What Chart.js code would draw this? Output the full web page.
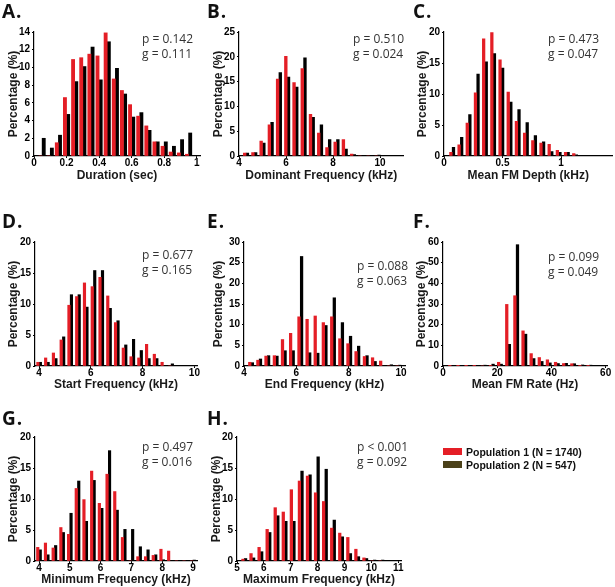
<!DOCTYPE html>
<html><head><meta charset="utf-8">
<script src="https://cdn.jsdelivr.net/npm/chart.js@4.4.1/dist/chart.umd.min.js"></script>
<style>
html,body{margin:0;padding:0;background:#fff;}
#wrap{position:relative;width:615px;height:587px;overflow:hidden;background:#fff;}
#wrap canvas{position:absolute;}
.lbl{position:absolute;font-family:'Open Sans',sans-serif;font-weight:700;font-size:19px;letter-spacing:1px;line-height:1;color:#111;}
.stat{position:absolute;font-family:'Open Sans',sans-serif;font-size:12px;line-height:15px;color:#333;white-space:pre;}
.leg{position:absolute;font-family:'Liberation Sans',Arial,sans-serif;font-weight:700;font-size:10.5px;line-height:12px;color:#111;white-space:pre;}
.sw{position:absolute;width:19px;height:7px;}
</style></head><body><div id="wrap"></div>
<script>
// ---------------- data ----------------
const durationBins = [0.05,0.10,0.15,0.20,0.25,0.30,0.35,0.40,0.45,0.50,0.55,0.60,0.65,0.70,0.75,0.80,0.85,0.90,0.95];
const durationPop1 = [0,0,1.5,6.6,10.9,11.1,11.5,11.3,13.9,8.7,7.4,5.8,4.5,3.4,1.6,1.1,0.45,0.35,0.2];
const durationPop2 = [2.0,0.9,2.35,4.7,8.4,10.1,12.3,8.6,12.9,9.9,7.0,4.4,4.9,2.9,1.6,1.6,1.1,1.85,2.6];

const domFreqBins = [4.30,4.65,5.00,5.35,5.70,6.05,6.40,6.75,7.10,7.45,7.80,8.15,8.50,8.85,9.20,9.55,9.90];
const domFreqPop1 = [0.6,0.7,3.0,6.3,15.5,20.1,14.8,17.6,8.4,4.6,1.7,2.8,3.3,0.4,0,0,0];
const domFreqPop2 = [0.6,0.7,2.6,6.8,16.8,15.9,13.9,19.8,7.8,6.3,3.3,3.3,1.4,0.3,0,0,0.2];

const fmDepthBins = [0.07,0.14,0.21,0.28,0.35,0.42,0.49,0.56,0.63,0.70,0.77,0.84,0.91,0.98,1.05,1.12];
const fmDepthPop1 = [0.6,1.8,5.3,10.2,18.9,19.9,15.5,10.3,5.6,3.7,2.5,2.1,1.9,0.9,0.6,0.4];
const fmDepthPop2 = [1.4,3.0,6.7,13.2,15.2,16.5,14.2,8.7,7.5,5.4,3.3,2.3,0.7,0.6,0.6,0.2];

const startFreqBins = [4.0,4.3,4.6,4.9,5.2,5.5,5.8,6.1,6.4,6.7,7.0,7.3,7.6,7.9,8.2,8.5,8.8,9.1];
const startFreqPop1 = [0.6,1.3,2.1,4.2,9.8,11.2,13.4,12.8,14.3,11.3,7.0,2.9,1.5,1.3,3.5,1.9,0.6,0];
const startFreqPop2 = [0.6,0.6,1.2,4.7,11.5,11.5,9.5,15.4,15.4,9.3,7.3,3.4,4.3,2.5,1.2,1.2,0,0.35];

const endFreqBins = [3.96,4.27,4.58,4.89,5.21,5.52,5.83,6.15,6.46,6.77,7.08,7.40,7.71,8.02,8.33,8.65,8.96,9.27,9.58,9.90];
const endFreqPop1 = [0.3,0.9,1.4,2.4,2.5,6.4,7.9,11.9,11.3,12.1,10.5,11.9,6.6,5.4,3.5,2.3,2.0,1.2,0,0];
const endFreqPop2 = [0,0.8,1.7,2.5,2.4,3.7,3.7,26.5,3.2,3.1,9.8,16.5,10.5,7.2,4.8,2.5,1.1,0,0.3,0.2];

const fmRateBins = [3,6,9,12,15,18,21,24,27,30,33,36,39,42,45,48,51,54];
const fmRatePop1 = [0.15,0.15,0.15,0.1,0,0.3,1.8,29.8,34.0,17.0,6.0,4.1,3.0,1.8,1.2,1.1,0.3,0.2];
const fmRatePop2 = [0.15,0.15,0.1,0.1,0.4,0.9,0.9,10.5,58.7,15.4,3.6,2.2,1.5,1.2,1.3,1.1,0.5,0.4];

const minFreqBins = [4.00,4.25,4.50,4.75,5.00,5.25,5.50,5.75,6.00,6.25,6.50,6.75,7.00,7.25,7.50,7.75,8.00,8.25,8.50,8.75,9.00];
const minFreqPop1 = [2.2,2.9,2.1,5.4,4.3,11.7,9.9,14.5,9.3,14.0,11.2,3.8,0,0.7,0.7,0.9,1.9,1.6,0,0,0];
const minFreqPop2 = [1.8,1.0,2.5,4.6,7.7,12.9,6.4,13.0,8.5,17.8,8.2,5.1,5.1,2.3,1.8,1.0,0.2,0,0,0,0.15];

const maxFreqBins = [5.27,5.57,5.87,6.17,6.47,6.77,7.07,7.37,7.67,7.97,8.27,8.57,8.87,9.17,9.47,9.77,10.07,10.37];
const maxFreqPop1 = [0.3,1.2,2.2,5.1,8.6,7.9,11.5,12.9,13.7,11.0,9.6,5.3,4.5,3.8,1.9,0.5,0,0];
const maxFreqPop2 = [0.4,0.5,1.5,4.6,7.3,6.4,6.4,14.5,13.9,16.8,14.8,6.6,3.9,1.2,0.7,0.4,0.15,0.15];

// tick labels
const durationTicks = [0,0.2,0.4,0.6,0.8,1];
const domFreqTicks = [4,6,8,10];
const fmDepthTicks = [0,0.5,1];
const startFreqTicks = [4,6,8,10];
const endFreqTicks = [4,6,8,10];
const fmRateTicks = [0,20,40,60];
const minFreqTicks = [4,5,6,7,8,9];
const maxFreqTicks = [5,6,7,8,9,10,11];
const pctTicks14 = [0,2,4,6,8,10,12,14];
const pctTicks20 = [0,5,10,15,20];
const pctTicks25 = [0,5,10,15,20,25];
const pctTicks30 = [0,5,10,15,20,25,30];
const pctTicks60 = [0,10,20,30,40,50,60];

const seriesNames = ['Population 1 (N = 1740)', 'Population 2 (N = 547)'];
const panelLetters = ['A.','B.','C.','D.','E.','F.','G.','H.'];
const xTitles = ['Duration (sec)','Dominant Frequency (kHz)','Mean FM Depth (kHz)','Start Frequency (kHz)','End Frequency (kHz)','Mean FM Rate (Hz)','Minimum Frequency (kHz)','Maximum Frequency (kHz)'];
const pTexts = ['p = 0.142','p = 0.510','p = 0.473','p = 0.677','p = 0.088','p = 0.099','p = 0.497','p < 0.001'];
const gTexts = ['g = 0.111','g = 0.024','g = 0.047','g = 0.165','g = 0.063','g = 0.049','g = 0.016','g = 0.092'];
const yTitle = 'Percentage (%)';

// ---------------- layout / style ----------------
const RED = '#e41e26', BLACK = '#000000', LEG2 = '#4b4119';
const panels = [
 {bins:durationBins, p1:durationPop1, p2:durationPop2, xt:durationTicks, yt:pctTicks14},
 {bins:domFreqBins, p1:domFreqPop1, p2:domFreqPop2, xt:domFreqTicks, yt:pctTicks25},
 {bins:fmDepthBins, p1:fmDepthPop1, p2:fmDepthPop2, xt:fmDepthTicks, yt:pctTicks20},
 {bins:startFreqBins, p1:startFreqPop1, p2:startFreqPop2, xt:startFreqTicks, yt:pctTicks20},
 {bins:endFreqBins, p1:endFreqPop1, p2:endFreqPop2, xt:endFreqTicks, yt:pctTicks30},
 {bins:fmRateBins, p1:fmRatePop1, p2:fmRatePop2, xt:fmRateTicks, yt:pctTicks60},
 {bins:minFreqBins, p1:minFreqPop1, p2:minFreqPop2, xt:minFreqTicks, yt:pctTicks20},
 {bins:maxFreqBins, p1:maxFreqPop1, p2:maxFreqPop2, xt:maxFreqTicks, yt:pctTicks20}
];
const boxes = [
 {cx:0,   cy:22,  cw:205, ch:162, wy:34, hx:28, pr:5,   xmin:0,    xmax:1.02, bar:3.2, yto:14,   xpb:1, lx:2,   ly:2,   sx:142, sy:31},
 {cx:205, cy:22,  cw:205, ch:162, wy:34, hx:28, pr:6.5, xmin:4,    xmax:11,   bar:2.7, yto:14,   xpb:1, lx:207, ly:2,   sx:353, sy:31},
 {cx:410, cy:22,  cw:205, ch:162, wy:34, hx:28, pr:2.5, xmin:0,    xmax:1.44, bar:2.6, yto:13,   xpb:1, lx:413, ly:2,   sx:548, sy:31},
 {cx:0,   cy:232, cw:205, ch:162, wy:35, hx:28, pr:8,   xmin:3.84, xmax:10.1, bar:2.5, yto:14,   xpb:2, lx:2,   ly:212, sx:142, sy:247},
 {cx:205, cy:232, cw:205, ch:162, wy:39, hx:28, pr:5,   xmin:4,    xmax:10.15,bar:2.6, yto:14,   xpb:2, lx:207, ly:212, sx:357, sy:258},
 {cx:410, cy:232, cw:205, ch:162, wy:33, hx:28, pr:8,   xmin:0,    xmax:60.5, bar:2.6, yto:11.5, xpb:2, lx:413, ly:212, sx:548, sy:249},
 {cx:0,   cy:427, cw:205, ch:160, wy:35, hx:26, pr:8,   xmin:3.87, xmax:9.13, bar:2.5, yto:14,   xpb:0, lx:2,   ly:409, sx:142, sy:439},
 {cx:205, cy:427, cw:205, ch:160, wy:32, hx:26, pr:9,   xmin:5,    xmax:11.1, bar:2.6, yto:12,   xpb:0, lx:207, ly:409, sx:357, sy:439}
];

const TICKFONT = {family:"'Liberation Sans', Arial, sans-serif", size:10, weight:'bold', lineHeight:1};
const TITLEFONT = {family:"'Liberation Sans', Arial, sans-serif", size:12, weight:'bold'};
const wrap = document.getElementById('wrap');

function addDiv(cls, text, x, y, extra) {
  const d = document.createElement('div');
  d.className = cls; d.textContent = text;
  d.style.left = x + 'px'; d.style.top = y + 'px';
  if (extra) Object.assign(d.style, extra);
  wrap.appendChild(d); return d;
}

panels.forEach((p, i) => {
  const b = boxes[i];
  const cv = document.createElement('canvas');
  cv.width = b.cw; cv.height = b.ch;
  cv.style.left = b.cx + 'px'; cv.style.top = b.cy + 'px';
  cv.style.width = b.cw + 'px'; cv.style.height = b.ch + 'px';
  wrap.appendChild(cv);
  new Chart(cv, {
    type: 'bar',
    data: {
      datasets: [
        {label: seriesNames[0], data: p.bins.map((x, k) => ({x: x, y: p.p1[k]})), backgroundColor: RED, barThickness: b.bar, borderWidth: 0},
        {label: seriesNames[1], data: p.bins.map((x, k) => ({x: x, y: p.p2[k]})), backgroundColor: BLACK, barThickness: b.bar, borderWidth: 0}
      ]
    },
    options: {
      responsive: false, animation: false, devicePixelRatio: 1,
      layout: {padding: {top: 10, right: b.pr, left: 0, bottom: 0}, autoPadding: false},
      plugins: {legend: {display: false}, tooltip: {enabled: false}},
      scales: {
        x: {
          type: 'linear', min: b.xmin, max: b.xmax, offset: false,
          grid: {offset: false, drawOnChartArea: false, drawTicks: true, tickLength: 2, color: '#000', lineWidth: 1},
          border: {color: '#000', width: 1.2},
          ticks: {font: TICKFONT, color: '#000', padding: 0, maxRotation: 0, autoSkip: false, callback: v => String(v)},
          afterBuildTicks: s => { s.ticks = p.xt.map(v => ({value: v})); },
          afterFit: s => { s.height = b.hx; },
          title: {display: true, text: xTitles[i], font: TITLEFONT, color: '#1a1a1a', padding: {top: 0, bottom: b.xpb}}
        },
        y: {
          type: 'linear', min: p.yt[0], max: p.yt[p.yt.length - 1],
          grid: {drawOnChartArea: false, drawTicks: true, tickLength: 2, color: '#000', lineWidth: 1},
          border: {color: '#000', width: 1.2},
          ticks: {font: TICKFONT, color: '#000', padding: 2, autoSkip: false, callback: v => String(v)},
          afterBuildTicks: s => { s.ticks = p.yt.map(v => ({value: v})); },
          afterFit: s => { s.width = b.wy; },
          title: {display: true, text: yTitle, font: TITLEFONT, color: '#1a1a1a', padding: {top: b.yto - 7.2, bottom: 0}}
        }
      }
    }
  });
  addDiv('lbl', panelLetters[i], b.lx, b.ly);
  addDiv('stat', pTexts[i] + '\n' + gTexts[i], b.sx, b.sy);
});

// legend
addDiv('sw', '', 443, 448, {background: RED});
addDiv('leg', seriesNames[0], 466, 446);
addDiv('sw', '', 443, 461, {background: LEG2});
addDiv('leg', seriesNames[1], 466, 459);
</script>
</body></html>
